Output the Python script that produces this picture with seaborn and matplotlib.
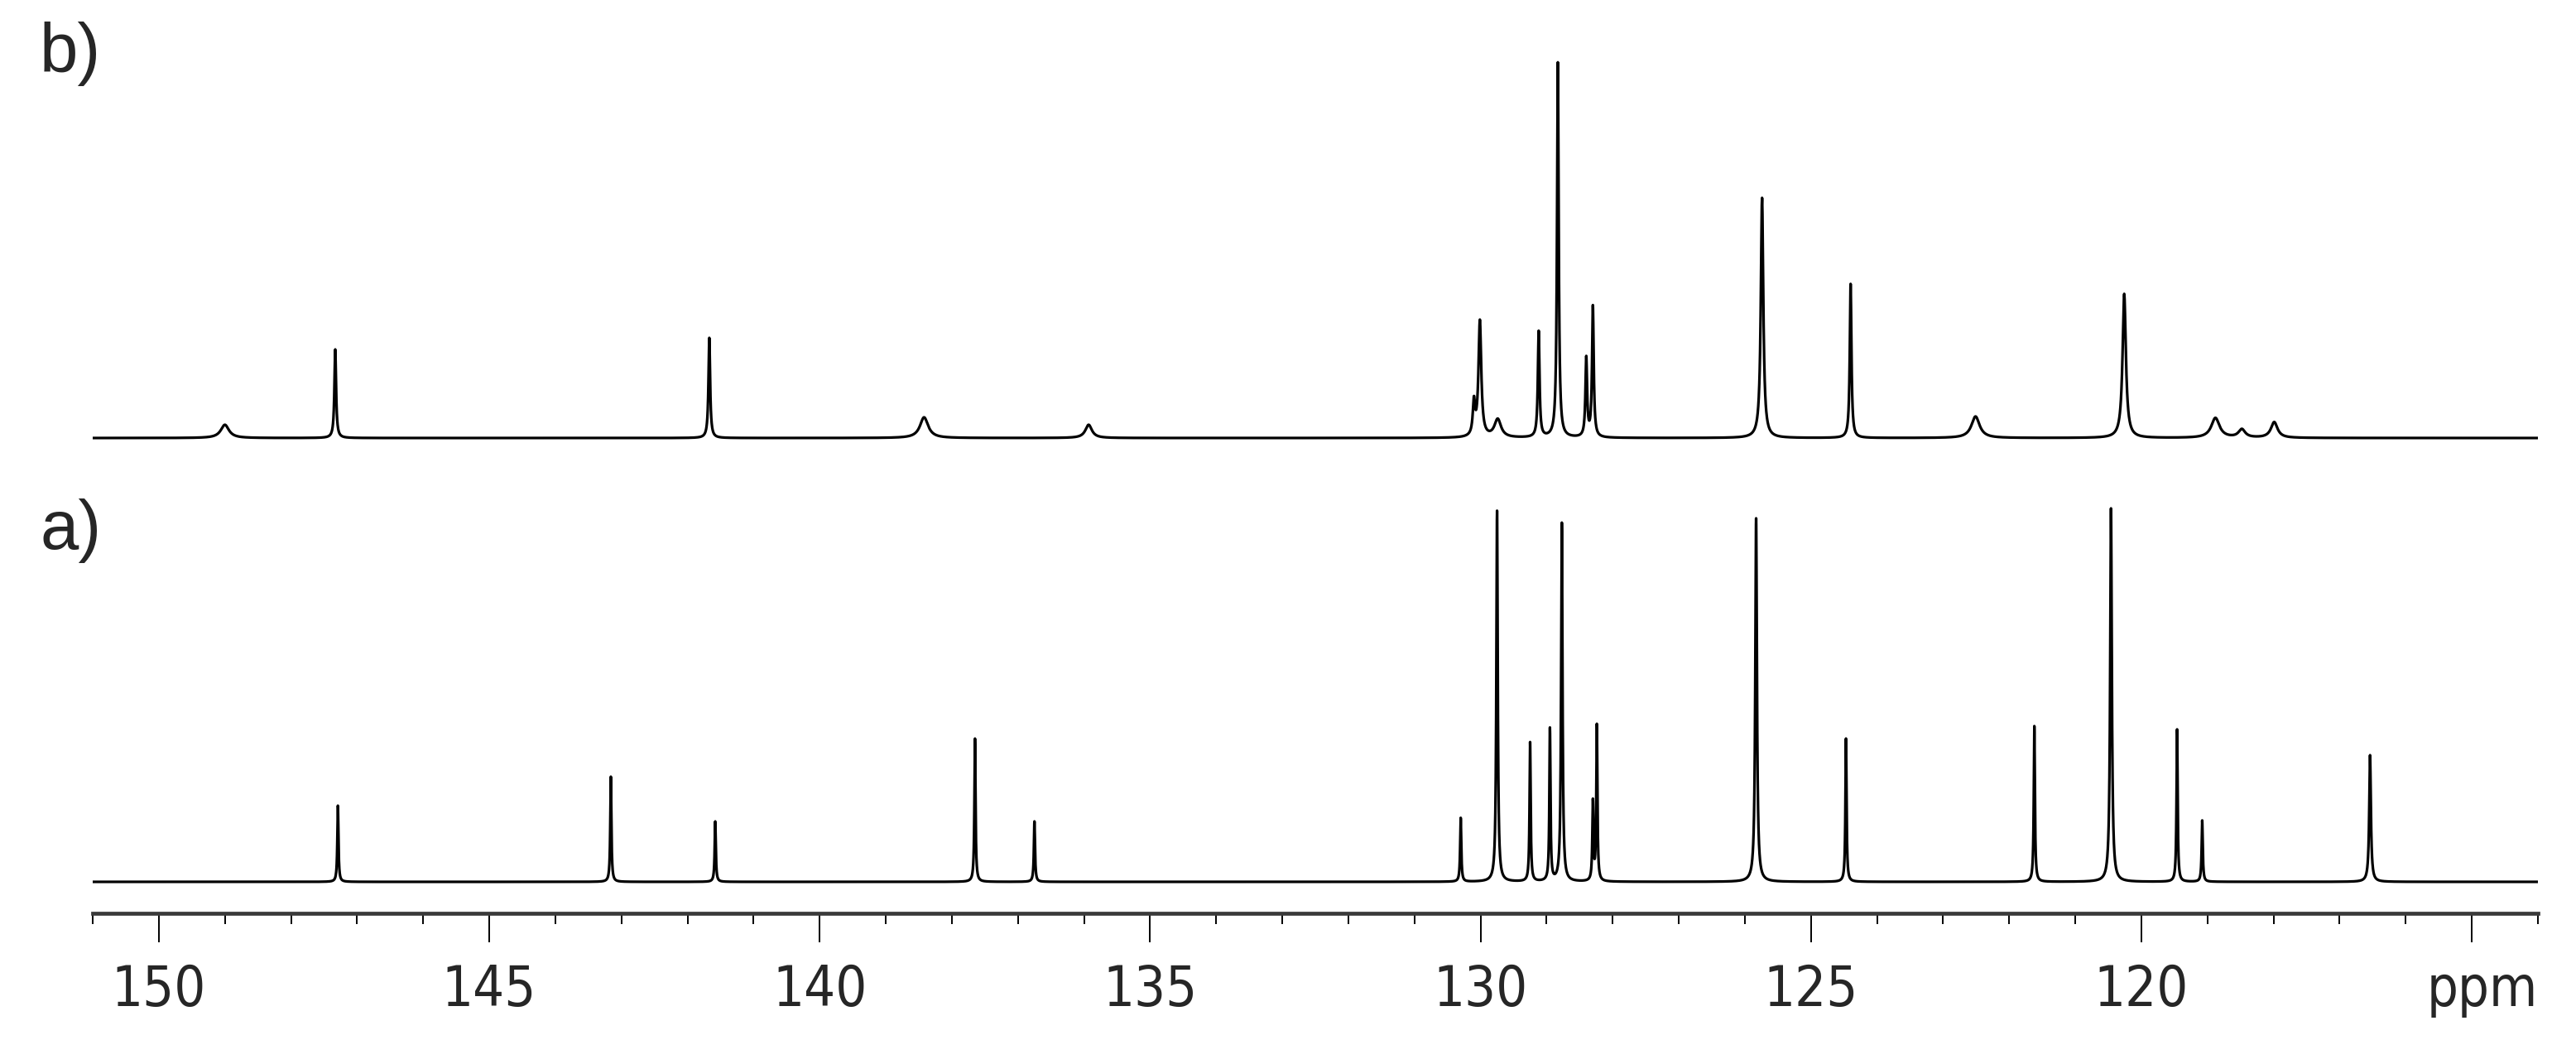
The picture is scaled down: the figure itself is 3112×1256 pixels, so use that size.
import numpy as np
import pandas as pd
import seaborn as sns
import matplotlib
matplotlib.use("Agg")
import matplotlib.pyplot as plt
import matplotlib.transforms as mtransforms
from matplotlib.ticker import MultipleLocator, FixedLocator

# peak lists (shift in ppm, height, FWHM in ppm)
ppm_b = [149.00, 147.33, 141.67, 138.42, 135.93, 130.10, 130.01, 129.74, 129.12, 128.83,
         128.40, 128.30, 125.74, 124.40, 122.51, 120.26, 118.88, 118.48, 117.99]
height_b = [16, 107, 121, 25, 16, 40, 140, 22, 128, 453,
            95, 158, 290, 186, 26, 174, 24, 10, 19]
fwhm_b = [0.15, 0.03, 0.03, 0.15, 0.12, 0.04, 0.05, 0.12, 0.03, 0.03,
          0.03, 0.03, 0.045, 0.03, 0.15, 0.06, 0.15, 0.12, 0.12]

ppm_a = [147.29, 143.16, 141.58, 137.65, 136.75, 130.30, 129.75, 129.25, 128.95, 128.77,
         128.30, 128.24, 125.83, 124.47, 121.62, 120.46, 119.46, 119.08, 116.54]
height_a = [92, 127, 73, 173, 73, 77, 448, 168, 184, 433,
            95, 188, 439, 173, 188, 451, 184, 74, 153]
fwhm_a = [0.02, 0.02, 0.02, 0.02, 0.02, 0.02, 0.025, 0.02, 0.02, 0.025,
          0.02, 0.02, 0.03, 0.02, 0.02, 0.03, 0.02, 0.02, 0.03]

tick_labels = ["150", "145", "140", "135", "130", "125", "120", ""]
x_left, x_right = 151.0, 114.0
offset_a, offset_b = 38, 574


def spectrum(axis, centers, heights, widths):
    y = np.zeros_like(axis)
    for c, h, w in zip(centers, heights, widths):
        g = w / 2.0
        y += h * g**2 / ((axis - c)**2 + g**2)
    return y


shift = np.linspace(x_left, x_right, 18501)
df = pd.DataFrame({
    "shift": shift,
    "a": spectrum(shift, ppm_a, height_a, fwhm_a) + offset_a,
    "b": spectrum(shift, ppm_b, height_b, fwhm_b) + offset_b,
})

sns.set_style("white")
plt.rcParams["font.family"] = ["DejaVu Sans"]

W, H = 3112, 1256
fig = plt.figure(figsize=(W / 200, H / 200), dpi=200)
ax = fig.add_axes([112 / W, (H - 1103) / H, (3066 - 112) / W, 1103 / H])

for col in ["b", "a"]:
    sns.lineplot(data=df, x="shift", y=col, ax=ax, color="black", linewidth=1.15,
                 estimator=None, sort=False)

ax.set_xlim(x_left, x_right)
ax.set_ylim(0, 1103)
ax.set_xlabel("")
ax.set_ylabel("")
ax.set_yticks([])

for s in ["left", "top", "right"]:
    ax.spines[s].set_visible(False)
ax.spines["bottom"].set_color("#3a3a3a")
ax.spines["bottom"].set_linewidth(1.7)

ax.xaxis.set_major_locator(FixedLocator([150, 145, 140, 135, 130, 125, 120, 115]))
ax.set_xticklabels(tick_labels)
ax.xaxis.set_minor_locator(MultipleLocator(1))
ax.tick_params(axis="x", which="major", direction="out", length=12.6, width=0.7,
               color="black", pad=9, labelsize=24, bottom=True)
ax.tick_params(axis="x", which="minor", direction="out", length=4.8, width=0.7,
               color="black", bottom=True)
for lab in ax.get_xticklabels():
    lab.set_fontstretch("condensed")

trans = mtransforms.offset_copy(ax.get_xaxis_transform(), fig=fig, y=-(12.6 + 9), units="points")
ax.text(x_right, 0, "ppm", transform=trans, ha="right", va="top", fontsize=24,
        fontstretch="condensed")

fig.text(48 / W, (H - 87) / H, "b)", fontsize=30, family=["Liberation Sans", "DejaVu Sans"],
         va="baseline", ha="left")
fig.text(48 / W, (H - 663) / H, "a)", fontsize=30, family=["Liberation Sans", "DejaVu Sans"],
         va="baseline", ha="left")

fig.savefig("out.png", dpi=200, facecolor="white")
plt.close(fig)
